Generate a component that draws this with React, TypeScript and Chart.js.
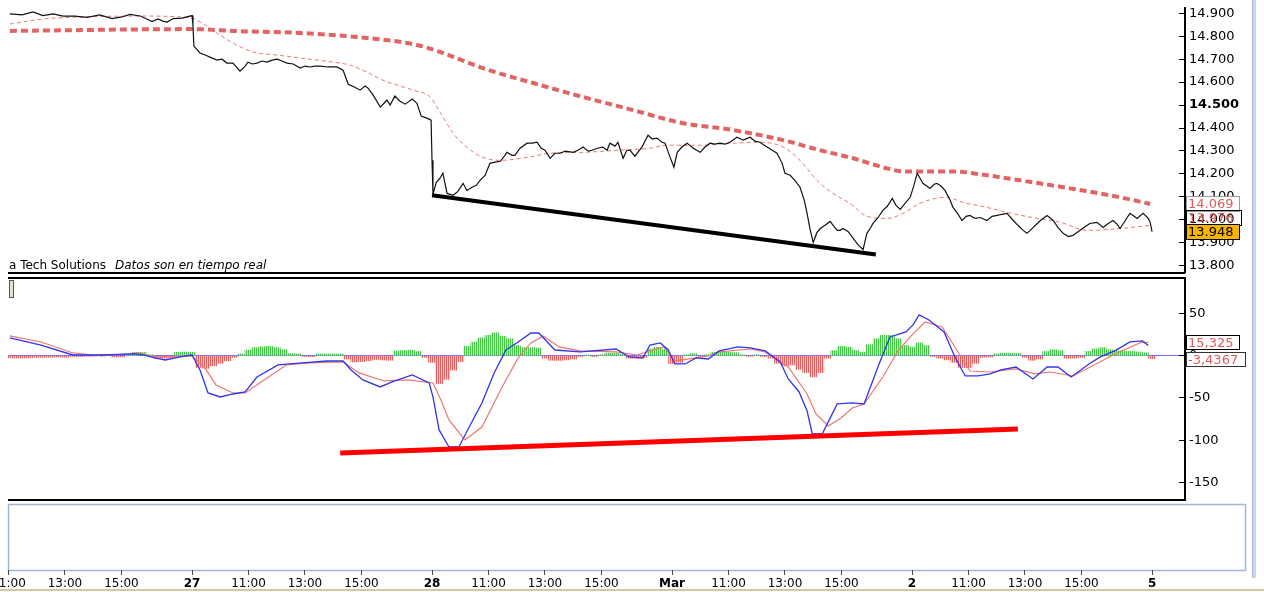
import React, { useEffect, useRef } from 'react';
import { Chart, registerables } from 'chart.js';

Chart.register(...registerables);

// ---------- time axis (minutes of trading since 26th 09:00, 510 min per session) ----------
const SESSION_MIN = 510;
const dayLabels = ['26', '27', '28', 'Mar', '2', '5'];
const hourLabels = ['11:00', '13:00', '15:00'];
const hourOffsets = [120, 240, 360];
const X_MIN = 119;
const X_MAX = 2620;

// ---------- price panel ----------
const priceTime = [
  123, 149, 172, 193, 215, 236, 261, 287, 314, 340,
  361, 378, 400, 414, 425, 438, 448, 457, 470, 489,
  510, 512, 514, 527, 538, 548, 563, 574, 584, 597,
  612, 623, 629, 638, 648, 659, 669, 680, 691, 701,
  712, 725, 740, 750, 761, 771, 782, 799, 818, 831,
  842, 856, 867, 878, 884, 895, 910, 918, 924, 931,
  941, 952, 963, 978, 988, 997, 1009, 1018, 1020, 1022,
  1029, 1037, 1043, 1052, 1065, 1075, 1086, 1094, 1105, 1114,
  1122, 1133, 1143, 1154, 1165, 1175, 1179, 1190, 1196, 1207,
  1222, 1233, 1243, 1252, 1260, 1271, 1281, 1292, 1303, 1320,
  1330, 1341, 1352, 1360, 1371, 1383, 1392, 1398, 1409, 1415,
  1426, 1434, 1441, 1451, 1466, 1479, 1488, 1498, 1509, 1515,
  1526, 1534, 1541, 1551, 1562, 1575, 1590, 1600, 1611, 1621,
  1632, 1643, 1653, 1668, 1681, 1696, 1706, 1717, 1726, 1732,
  1743, 1753, 1764, 1770, 1781, 1791, 1802, 1811, 1817, 1823,
  1830, 1838, 1845, 1855, 1866, 1874, 1881, 1887, 1893, 1904,
  1915, 1925, 1936, 1944, 1951, 1957, 1968, 1978, 1987, 1998,
  2006, 2015, 2025, 2036, 2044, 2051, 2057, 2063, 2072, 2078,
  2087, 2093, 2102, 2110, 2121, 2127, 2138, 2146, 2155, 2163,
  2174, 2185, 2199, 2210, 2221, 2231, 2242, 2255, 2265, 2276,
  2284, 2291, 2306, 2316, 2327, 2340, 2350, 2361, 2372, 2382,
  2397, 2408, 2418, 2433, 2446, 2457, 2467, 2476, 2482, 2493,
  2503, 2512, 2518, 2531, 2542, 2546, 2550,
];
const priceValue = [
  14.897, 14.893, 14.906, 14.890, 14.897, 14.888, 14.888, 14.882, 14.893, 14.877,
  14.884, 14.895, 14.888, 14.875, 14.864, 14.875, 14.866, 14.862, 14.877, 14.879,
  14.890, 14.849, 14.757, 14.727, 14.718, 14.709, 14.696, 14.700, 14.683, 14.683,
  14.648, 14.670, 14.687, 14.679, 14.683, 14.692, 14.687, 14.696, 14.700, 14.692,
  14.683, 14.679, 14.661, 14.670, 14.666, 14.670, 14.670, 14.666, 14.666, 14.652,
  14.591, 14.578, 14.565, 14.583, 14.574, 14.543, 14.491, 14.508, 14.522, 14.500,
  14.539, 14.517, 14.504, 14.526, 14.508, 14.452, 14.443, 14.434, 14.259, 14.111,
  14.163, 14.181, 14.203, 14.115, 14.107, 14.124, 14.159, 14.128, 14.142, 14.150,
  14.172, 14.194, 14.246, 14.251, 14.255, 14.281, 14.294, 14.281, 14.281, 14.312,
  14.334, 14.334, 14.338, 14.312, 14.303, 14.268, 14.290, 14.290, 14.299, 14.294,
  14.303, 14.317, 14.299, 14.303, 14.312, 14.317, 14.303, 14.334, 14.321, 14.338,
  14.268, 14.303, 14.303, 14.277, 14.317, 14.369, 14.352, 14.356, 14.338, 14.334,
  14.272, 14.229, 14.294, 14.317, 14.334, 14.312, 14.294, 14.317, 14.334, 14.330,
  14.334, 14.330, 14.338, 14.360, 14.347, 14.360, 14.343, 14.338, 14.325, 14.317,
  14.303, 14.290, 14.246, 14.203, 14.194, 14.172, 14.142, 14.085, 14.028, 13.962,
  13.901, 13.945, 13.962, 13.976, 13.993, 13.971, 13.954, 13.954, 13.962, 13.949,
  13.919, 13.892, 13.870, 13.941, 13.962, 13.984, 14.010, 14.041, 14.058, 14.093,
  14.063, 14.045, 14.072, 14.098, 14.150, 14.203, 14.181, 14.159, 14.146, 14.137,
  14.155, 14.159, 14.146, 14.128, 14.085, 14.054, 14.024, 13.997, 14.015, 14.019,
  14.006, 14.010, 13.997, 14.015, 14.019, 14.024, 14.028, 13.997, 13.976, 13.954,
  13.941, 13.954, 13.984, 14.002, 14.019, 13.997, 13.967, 13.941, 13.927, 13.932,
  13.954, 13.971, 13.984, 13.989, 13.967, 13.984, 13.997, 13.980, 13.962, 13.997,
  14.028, 14.015, 14.006, 14.028, 14.006, 13.989, 13.948,
];
const maShortTime = [
  123, 193, 278, 400, 510, 527, 563, 597, 640, 691,
  740, 810, 846, 882, 916, 952, 980, 1016, 1037, 1065,
  1094, 1128, 1165, 1222, 1271, 1341, 1413, 1483, 1519, 1590,
  1660, 1717, 1766, 1802, 1838, 1872, 1908, 1944, 1987, 2021,
  2057, 2114, 2148, 2199, 2242, 2306, 2355, 2412, 2482, 2546,
];
const maShortValue = [
  14.853, 14.875, 14.884, 14.888, 14.879, 14.862, 14.814, 14.770, 14.731, 14.718,
  14.705, 14.687, 14.674, 14.643, 14.608, 14.583, 14.565, 14.535, 14.469, 14.377,
  14.316, 14.272, 14.259, 14.272, 14.290, 14.294, 14.303, 14.312, 14.325, 14.325,
  14.334, 14.338, 14.317, 14.259, 14.172, 14.115, 14.072, 14.015, 14.006, 14.028,
  14.072, 14.098, 14.076, 14.054, 14.032, 14.006, 13.989, 13.954, 13.962, 13.976,
];
const maLongTime = [
  123, 512, 597, 740, 882, 988, 1043, 1128, 1235, 1341, 1447, 1553,
  1660, 1766, 1845, 1915, 1987, 2021, 2127, 2199, 2270, 2376, 2482, 2546,
];
const maLongValue = [
  14.823, 14.831, 14.823, 14.814, 14.792, 14.762, 14.727, 14.661, 14.596, 14.535, 14.478, 14.421,
  14.391, 14.347, 14.303, 14.268, 14.224, 14.211, 14.211, 14.194, 14.172, 14.137, 14.098, 14.069,
];
const priceTrendTime = [1020, 1963];
const priceTrendValue = [14.107, 13.849];

// ---------- MACD panel ----------
const macdTime = [
  123, 189, 257, 319, 389, 406, 431, 453, 485, 510,
  527, 544, 570, 597, 623, 648, 693, 744, 797, 831,
  848, 873, 910, 935, 978, 1014, 1022, 1035, 1056, 1077,
  1099, 1126, 1152, 1177, 1203, 1230, 1247, 1281, 1335, 1411,
  1439, 1468, 1483, 1505, 1522, 1536, 1558, 1581, 1607, 1630,
  1670, 1696, 1728, 1760, 1777, 1800, 1817, 1828, 1849, 1881,
  1913, 1938, 1970, 1993, 2027, 2042, 2055, 2076, 2108, 2131,
  2153, 2180, 2206, 2229, 2261, 2297, 2327, 2350, 2378, 2416,
  2440, 2471, 2503, 2529, 2542,
];
const macdValue = [
  20.9, 12.6, 0.8, 0.8, 2, 0.8, -2.7, -5.1, -1.5, 0.8,
  -16.9, -44.1, -48.8, -45.3, -42.9, -25.2, -11, -8.6, -6.3, -6.3,
  -16.9, -28.7, -37, -31.1, -22.8, -32.3, -48.8, -87.8, -107.9, -107.9,
  -84.3, -55.9, -20.4, 6.7, 16.2, 26.8, 26.8, 6.7, 4.4, 7.9,
  -1.5, -2.7, 12.6, 15, 6.7, -9.8, -9.8, -2.7, -3.9, 5.6,
  10.3, 9.1, 5.6, -7.4, -27.5, -42.9, -65.4, -92.6, -92.6, -57.1,
  -55.9, -57.1, -9.8, 22.1, 28, 36.3, 48.1, 42.2, 28, -1.5,
  -24, -24, -21.6, -16.9, -13.4, -27.5, -13.4, -13.4, -25.2, -9.8,
  -1.5, 5.6, 16.2, 17.4, 11.9,
];
const signalTime = [
  123, 189, 257, 319, 397, 431, 510, 536, 561, 597,
  623, 657, 710, 761, 831, 865, 918, 969, 1022, 1039,
  1056, 1090, 1126, 1169, 1203, 1230, 1256, 1290, 1335, 1411,
  1456, 1483, 1513, 1536, 1566, 1607, 1630, 1696, 1728, 1777,
  1817, 1836, 1862, 1889, 1913, 1938, 1978, 2010, 2042, 2068,
  2104, 2131, 2163, 2206, 2261, 2301, 2333, 2382, 2431, 2471,
  2529, 2542,
];
const signalValue = [
  23.3, 16.2, 3.2, -0.4, 3.2, -1.5, -0.4, -13.4, -34.6, -44.1,
  -44.1, -31.1, -11, -8.6, -7.4, -20.4, -29.9, -28.7, -32.3, -52.4,
  -76, -99.6, -84.3, -37, -2.7, 15, 23.3, 10.3, 5.6, 4.4,
  0.8, 5.6, 10.3, -6.3, -3.9, -0.4, 4.4, 7.9, 4.4, -13.4,
  -45.3, -68.9, -83.1, -73.6, -61.8, -57.1, -25.2, 5.6, 25.7, 39.8,
  33.9, 10.3, -18.1, -19.3, -15.7, -21.6, -19.3, -24, -9.8, 2,
  16.2, 15.325,
];
// histogram, one bar every 15 minutes starting 26th 11:00
const histStart = 120;
const histStep = 15;
const histValue = [
  -2.5, -2.8, -2.8, -2.5, -2, -2, -2, -1.5, -2, -1,
  -1, -0.8, -0.5, 1.5, 1.5, -1.5, -1.5, 1, 4, 4,
  1, -3, -3, -2.5, 4, 4.3, 4, -14, -15, -12,
  -9, -6, -2, 2, 6.5, 9.5, 10.5, 11, 9.5, 7,
  2.5, 2, -1, -1, 2, 2, 2, 2, -4, -7.5,
  -7, -6, -4.5, -5, -5.5, 5.5, 6, 6.5, 5, -2,
  -8, -33, -28, -17, -7, 11, 16, 21, 24, 27,
  23, 20, 12, 9.5, 9.5, 9, -3, -5.5, -5.5, -5,
  -4, -1, 0.8, -1, 1, 3, 3, 2, -3, -3,
  -2, 8, 10, 8, -9.5, -8, 1, 2.5, -1, 1,
  4, 4, 4, 3.5, 1, -0.8, 1, -1, -3, -9,
  -12, -11, -16, -20, -25, -20, -3, 6, 11, 10,
  6, 4, 13, 20, 24, 24, 20, 12, 10, 15,
  12, -1, -3, -5, -8, -14, -14, -9, -2, -1.5,
  2, 3, 3, 2.5, -2, -5.5, -4, 5, 7, 6,
  -3, -3, -2, 5, 8, 9.5, 7, 6, 5.5, 5,
  4.5, 3.5, -3.4367,
];
const macdTrendTime = [825, 2265];
const macdTrendValue = [-115, -86.6];

// ---------- axis ranges ----------
const PRICE_MIN = 13.7725;
const PRICE_MAX = 14.923;
const MACD_MIN = -170.6;
const MACD_MAX = 91.8;

const AXIS_W = 79;
const FONT = 'DejaVu Sans';

const zip = (t: number[], v: number[]) => t.map((x, i) => ({ x, y: v[i] }));
const last = (a: number[]) => a[a.length - 1];
const comma = (v: number) => String(v).replace('.', ',');

const xTickValues: number[] = [];
dayLabels.forEach((_, d) => {
  const s = d * SESSION_MIN;
  if (s >= X_MIN && s <= X_MAX) xTickValues.push(s);
  hourOffsets.forEach((o) => {
    const v = s + o;
    if (v >= X_MIN && v <= X_MAX) xTickValues.push(v);
  });
});
const xLabel = (v: number) => {
  const d = Math.floor(v / SESSION_MIN);
  const r = v - d * SESSION_MIN;
  if (r === 0) return dayLabels[d];
  return hourLabels[hourOffsets.indexOf(r)];
};

function drawBox(
  ctx: CanvasRenderingContext2D, x: number, yc: number, w: number, h: number,
  text: string, fill: string | null, stroke: string, color: string,
) {
  const top = Math.round(yc - h / 2);
  if (fill) {
    ctx.fillStyle = fill;
    ctx.fillRect(x, top, w, h);
  }
  ctx.strokeStyle = stroke;
  ctx.lineWidth = 1;
  ctx.strokeRect(x + 0.5, top + 0.5, w - 1, h - 1);
  ctx.fillStyle = color;
  ctx.font = `13px "${FONT}"`;
  ctx.textAlign = 'left';
  ctx.textBaseline = 'middle';
  ctx.fillText(text, x + 2, top + h / 2 + 1);
}

const priceDecor = {
  id: 'priceDecor',
  afterDraw(chart: any) {
    const { ctx, chartArea: a } = chart;
    const y = chart.scales.y;
    ctx.save();
    ctx.fillStyle = '#000';
    ctx.fillRect(a.left, a.bottom, a.right - a.left, 2);
    ctx.font = `12px "${FONT}"`;
    ctx.textAlign = 'left';
    ctx.textBaseline = 'alphabetic';
    const t1 = 'a Tech Solutions';
    ctx.fillText(t1, a.left + 1, a.bottom - 3);
    const w1 = ctx.measureText(t1).width;
    ctx.font = `italic 12px "${FONT}"`;
    ctx.fillText('Datos son en tiempo real', a.left + 1 + w1 + 9, a.bottom - 3);
    const bx = a.right + 1;
    drawBox(ctx, bx, y.getPixelForValue(last(maLongValue)), 54, 16, last(maLongValue).toFixed(3), '#fff', '#9a9a9a', '#e05a5a');
    drawBox(ctx, bx, y.getPixelForValue(last(maShortValue)) - 7, 56, 16, last(maShortValue).toFixed(3), null, '#000', '#e05a5a');
    drawBox(ctx, bx, y.getPixelForValue(last(priceValue)), 54, 16, last(priceValue).toFixed(3), '#f7b500', '#000', '#000');
    ctx.restore();
  },
};

const macdDecor = {
  id: 'macdDecor',
  afterDraw(chart: any) {
    const { ctx, chartArea: a } = chart;
    const y = chart.scales.y;
    ctx.save();
    ctx.fillStyle = '#000';
    ctx.fillRect(a.left, a.top - 1, a.right - a.left, 2);
    ctx.fillRect(a.left, a.bottom - 1, a.right - a.left, 2);
    ctx.fillStyle = '#e4e2d4';
    ctx.fillRect(a.left + 1, a.top + 2, 5, 18);
    ctx.strokeStyle = '#555';
    ctx.lineWidth = 1;
    ctx.strokeRect(a.left + 1.5, a.top + 2.5, 4, 17);
    const bx = a.right + 1;
    drawBox(ctx, bx, y.getPixelForValue(last(signalValue)), 54, 15, comma(last(signalValue)), '#fff', '#000', '#e05a5a');
    drawBox(ctx, bx, y.getPixelForValue(last(histValue)) + 1, 60, 15, comma(last(histValue)), '#fff', '#333', '#e05a5a');
    ctx.restore();
  },
};

const axisDecor = {
  id: 'axisDecor',
  beforeDraw(chart: any) {
    const { ctx, chartArea: a } = chart;
    ctx.save();
    ctx.strokeStyle = '#9fb6d3';
    ctx.lineWidth = 1.5;
    ctx.strokeRect(a.left + 0.5, a.top + 0.5, a.right + 60 - a.left, a.bottom - a.top);
    ctx.fillStyle = '#cfc9a6';
    ctx.fillRect(0, chart.height - 3, chart.width, 2);
    ctx.restore();
  },
};

function makeStripe(ctx: CanvasRenderingContext2D, strong: string, light: string) {
  const c = document.createElement('canvas');
  c.width = 2;
  c.height = 1;
  const g = c.getContext('2d')!;
  g.fillStyle = strong;
  g.fillRect(0, 0, 1, 1);
  g.fillStyle = light;
  g.fillRect(1, 0, 1, 1);
  return ctx.createPattern(c, 'repeat')!;
}

const baseOptions = {
  responsive: false,
  maintainAspectRatio: false,
  animation: false as const,
  devicePixelRatio: 1,
  events: [] as any[],
  plugins: { legend: { display: false }, tooltip: { enabled: false } },
};

export default function App() {
  const aRef = useRef<HTMLCanvasElement>(null);
  const bRef = useRef<HTMLCanvasElement>(null);
  const cRef = useRef<HTMLCanvasElement>(null);

  useEffect(() => {
    const line = { pointRadius: 0, tension: 0, fill: false };

    const priceChart = new Chart(aRef.current!, {
      type: 'line',
      data: {
        datasets: [
          { ...line, label: 'Tendencia', data: zip(priceTrendTime, priceTrendValue), borderColor: '#000', borderWidth: 4, order: 0 },
          { ...line, label: 'Precio', data: zip(priceTime, priceValue), borderColor: '#111', borderWidth: 1.2, order: 1 },
          { ...line, label: 'Media corta', data: zip(maShortTime, maShortValue), borderColor: 'rgba(232,112,112,0.95)', borderWidth: 1, borderDash: [4, 3], cubicInterpolationMode: 'monotone', order: 2 },
          { ...line, label: 'Media larga', data: zip(maLongTime, maLongValue), borderColor: '#e06464', borderWidth: 4, borderDash: [7, 4], cubicInterpolationMode: 'monotone', order: 3 },
        ] as any,
      },
      options: {
        ...baseOptions,
        layout: { padding: { left: 8, top: 8, right: 0, bottom: 4 } },
        scales: {
          x: { type: 'linear', min: X_MIN, max: X_MAX, offset: false, display: false },
          y: {
            position: 'right',
            min: PRICE_MIN,
            max: PRICE_MAX,
            afterFit(s: any) { s.width = AXIS_W; s.paddingTop = 0; s.paddingBottom = 0; },
            ticks: {
              stepSize: 0.1,
              includeBounds: false,
              padding: 10,
              color: '#000',
              font: (c: any) => ({ family: FONT, size: 13, weight: c.tick && Math.abs(c.tick.value - 14.5) < 1e-6 ? 'bold' : 'normal' }),
              callback: (v: any) => Number(v).toFixed(3),
            },
            grid: { drawOnChartArea: false, drawTicks: true, tickLength: -6, tickColor: '#000' },
            border: { display: true, color: '#000', width: 2 },
          },
        },
      } as any,
      plugins: [priceDecor],
    });

    const bctx = bRef.current!.getContext('2d')!;
    const greenStripe = makeStripe(bctx, 'rgb(70,196,70)', 'rgb(200,238,200)');
    const redStripe = makeStripe(bctx, 'rgb(228,96,96)', 'rgb(246,206,206)');

    const macdChart = new Chart(bRef.current!, {
      type: 'line',
      data: {
        datasets: [
          { ...line, label: 'Tendencia MACD', data: zip(macdTrendTime, macdTrendValue), borderColor: '#ff0000', borderWidth: 5, order: 0 },
          { ...line, label: 'MACD', data: zip(macdTime, macdValue), borderColor: 'rgb(52,52,232)', borderWidth: 1.3, order: 1 },
          { ...line, label: 'Señal', data: zip(signalTime, signalValue), borderColor: 'rgb(236,118,118)', borderWidth: 1.2, order: 2 },
          {
            type: 'bar',
            label: 'Histograma',
            data: histValue.map((v, i) => ({ x: histStart + i * histStep, y: v })),
            backgroundColor: (c: any) => ((c.parsed && c.parsed.y >= 0) ? greenStripe : redStripe),
            borderWidth: 0,
            barPercentage: 1,
            categoryPercentage: 1,
            grouped: false,
            order: 3,
          },
        ] as any,
      },
      options: {
        ...baseOptions,
        layout: { padding: { left: 8, top: 2, right: 0, bottom: 4 } },
        scales: {
          x: { type: 'linear', min: X_MIN, max: X_MAX, offset: false, display: false },
          y: {
            position: 'right',
            min: MACD_MIN,
            max: MACD_MAX,
            afterFit(s: any) { s.width = AXIS_W; s.paddingTop = 0; s.paddingBottom = 0; },
            ticks: {
              stepSize: 50,
              includeBounds: false,
              padding: 10,
              color: '#000',
              font: { family: FONT, size: 13 },
              callback: (v: any) => String(v),
            },
            grid: {
              drawOnChartArea: true,
              drawTicks: true,
              tickLength: -6,
              tickColor: '#000',
              color: (c: any) => (c.tick && c.tick.value === 0 ? 'rgb(110,110,240)' : 'rgba(0,0,0,0)'),
              lineWidth: 1,
            },
            border: { display: true, color: '#000', width: 2 },
          },
        },
      } as any,
      plugins: [macdDecor],
    });

    const axisChart = new Chart(cRef.current!, {
      type: 'line',
      data: { datasets: [] },
      options: {
        ...baseOptions,
        layout: { padding: { left: 8, top: 2, right: AXIS_W, bottom: 0 } },
        scales: {
          x: {
            type: 'linear',
            min: X_MIN,
            max: X_MAX,
            offset: false,
            position: 'bottom',
            afterFit(s: any) { s.height = 22; s.paddingLeft = 0; s.paddingRight = 0; },
            afterBuildTicks(s: any) { s.ticks = xTickValues.map((value) => ({ value })); },
            ticks: {
              autoSkip: false,
              maxRotation: 0,
              minRotation: 0,
              padding: 2,
              color: '#000',
              font: (c: any) => ({ family: FONT, size: 12, weight: c.tick && c.tick.value % SESSION_MIN === 0 ? 'bold' : 'normal' }),
              callback: (v: any) => xLabel(Number(v)),
            },
            grid: { drawOnChartArea: false, drawTicks: true, tickLength: 5, tickColor: '#444' },
            border: { display: false },
          },
          y: { display: false, min: 0, max: 1 },
        },
      } as any,
      plugins: [axisDecor],
    });

    return () => {
      priceChart.destroy();
      macdChart.destroy();
      axisChart.destroy();
    };
  }, []);

  return (
    <div style={{ position: 'absolute', left: 0, top: 0, width: 1264, height: 592, background: '#fff', overflow: 'hidden' }}>
      <canvas ref={aRef} width={1264} height={276} style={{ position: 'absolute', left: 0, top: 0 }} />
      <canvas ref={bRef} width={1264} height={228} style={{ position: 'absolute', left: 0, top: 276 }} />
      <canvas ref={cRef} width={1264} height={90} style={{ position: 'absolute', left: 0, top: 502 }} />
      <div style={{ position: 'absolute', left: 1252, top: 0, width: 3, height: 578, background: '#c9d7ec', borderLeft: '1px solid #a9bbd4' }} />
    </div>
  );
}
